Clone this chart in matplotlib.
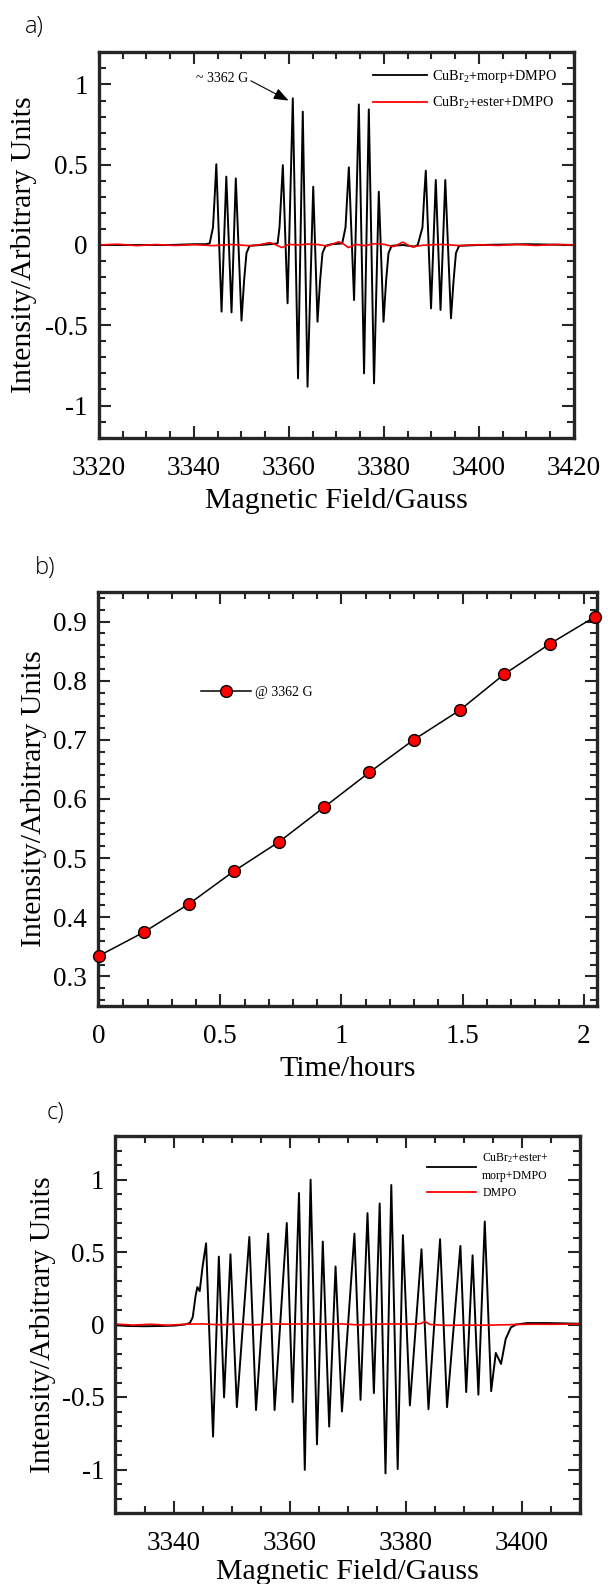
import matplotlib
matplotlib.use('Agg')
import matplotlib.pyplot as plt
from matplotlib.ticker import MultipleLocator, FuncFormatter
from matplotlib.lines import Line2D

plt.rcParams['font.family'] = ['Liberation Serif', 'DejaVu Serif']
plt.rcParams['mathtext.fontset'] = 'custom'
plt.rcParams['mathtext.rm'] = 'Liberation Serif'
plt.rcParams['mathtext.it'] = 'Liberation Serif:italic'
plt.rcParams['axes.unicode_minus'] = False

# ---------------- data: panel a ----------------
a_morp_field = [3320, 3335, 3340, 3342.5, 3343.3, 3344.0, 3344.35, 3344.7, 3345.8, 3346.8,
                3347.9, 3348.8, 3350.0, 3350.55, 3351.05, 3351.7, 3354, 3356, 3357.6, 3358.0,
                3358.35, 3358.7, 3359.7, 3360.8, 3361.9, 3362.9, 3363.9, 3365.1, 3366.0, 3366.55,
                3367.05, 3367.7, 3369, 3371.2, 3371.9, 3372.25, 3372.6, 3373.7, 3374.7, 3375.8,
                3376.8, 3377.9, 3378.9, 3379.9, 3380.45, 3380.95, 3381.6, 3384, 3386.4, 3387.1,
                3388.1, 3388.45, 3388.8, 3389.9, 3390.9, 3391.9, 3392.9, 3394.1, 3394.65, 3395.15,
                3395.8, 3400, 3410, 3420]
a_morp_int = [0.0, 0.0, 0.005, 0.005, 0.01, 0.11, 0.3, 0.503, -0.415, 0.426,
              -0.42, 0.415, -0.471, -0.22, -0.05, -0.005, 0.0, 0.005, 0.01, 0.11,
              0.3, 0.498, -0.363, 0.914, -0.831, 0.831, -0.883, 0.363, -0.478, -0.22,
              -0.05, -0.005, 0.005, 0.01, 0.11, 0.3, 0.484, -0.343, 0.876, -0.80,
              0.845, -0.862, 0.332, -0.478, -0.22, -0.05, -0.005, 0.0, -0.01, 0.0,
              0.11, 0.3, 0.463, -0.395, 0.405, -0.405, 0.405, -0.457, -0.22, -0.05,
              -0.005, 0.0, 0.005, 0.0]

a_ester_field = [3320, 3324, 3328, 3332, 3336, 3340, 3344, 3348, 3352, 3354, 3356, 3357,
                 3358.5, 3360, 3362, 3364, 3366, 3368, 3370.5, 3371.5, 3372.5, 3374, 3376,
                 3378, 3380, 3382, 3384, 3385, 3386, 3388, 3392, 3396, 3400, 3404, 3408,
                 3412, 3416, 3420]
a_ester_int = [0.0, 0.005, -0.004, 0.003, -0.003, 0.002, -0.004, 0.003, -0.005, 0.003, 0.015, 0.004,
               -0.016, 0.004, 0.0, 0.006, 0.003, -0.006, 0.02, 0.006, -0.016, 0.004, -0.004,
               0.008, 0.004, -0.01, 0.018, 0.0, -0.012, -0.002, 0.004, -0.004, 0.002, -0.003, 0.004,
               -0.003, 0.003, 0.0]

a_labels = ['CuBr$_2$+morp+DMPO', 'CuBr$_2$+ester+DMPO']
a_annot = '~ 3362 G'

# ---------------- data: panel b ----------------
b_time = [0, 0.185, 0.372, 0.556, 0.744, 0.928, 1.115, 1.298, 1.488, 1.672, 1.859, 2.046]
b_int = [0.335, 0.375, 0.423, 0.478, 0.528, 0.586, 0.645, 0.700, 0.750, 0.811, 0.862, 0.908]
b_label = '@ 3362 G'

# ---------------- data: panel c ----------------
c_mix_field = [3330, 3332, 3335, 3338, 3340, 3342.0, 3342.8, 3343.3, 3343.8, 3344.1, 3344.5,
               3345.0, 3345.6, 3346.8, 3347.8, 3348.7, 3349.8, 3350.9, 3353.05, 3354.2, 3356.3,
               3357.4, 3359.5, 3360.5, 3361.6, 3362.6, 3363.6, 3364.7, 3365.7, 3366.8, 3367.9,
               3369.0, 3371.15, 3372.2, 3373.4, 3374.5, 3375.5, 3376.5, 3377.5, 3378.6, 3379.5,
               3380.7, 3382.7, 3383.9, 3385.9, 3387.1, 3389.4, 3390.4, 3391.5, 3392.5, 3393.6,
               3394.7, 3395.5, 3396.4, 3397.2, 3398.1, 3399, 3401, 3404, 3407, 3410]
c_mix_int = [-0.005, -0.01, -0.012, -0.01, -0.008, 0.0, 0.01, 0.05, 0.2, 0.258, 0.23,
             0.4, 0.56, -0.773, 0.468, -0.503, 0.484, -0.57, 0.604, -0.59, 0.627,
             -0.59, 0.70, -0.535, 0.907, -1.003, 0.999, -0.826, 0.572, -0.704, 0.40,
             -0.60, 0.627, -0.52, 0.768, -0.473, 0.835, -1.027, 0.962, -0.997, 0.616,
             -0.558, 0.519, -0.584, 0.588, -0.570, 0.542, -0.466, 0.477, -0.484, 0.71,
             -0.46, -0.196, -0.272, -0.1, -0.02, 0.0, 0.01, 0.01, 0.008, 0.005]

c_dmpo_field = [3330, 3333, 3336, 3339, 3342, 3345, 3348, 3351, 3354, 3357, 3360, 3363, 3366,
                3369, 3372, 3375, 3378, 3381, 3382.5, 3383.3, 3384.2, 3387, 3390, 3393, 3396,
                3399, 3402, 3405, 3408, 3410]
c_dmpo_int = [0.003, -0.004, 0.002, -0.005, 0.002, 0.004, -0.002, 0.003, -0.002, 0.004, 0.002, 0.005,
              0.002, 0.004, -0.003, 0.002, 0.004, 0.002, 0.006, 0.02, 0.0, -0.006, -0.004, -0.005, -0.003,
              0.0, 0.002, 0.001, 0.003, 0.002]

c_labels = ['CuBr$_2$+ester+\nmorp+DMPO', 'DMPO']

# ---------------- figure ----------------
W, H = 608, 1584
fig = plt.figure(figsize=(W / 100, H / 100), dpi=100)


def px_axes(l, t, r, b):
    return fig.add_axes([l / W, 1 - b / H, (r - l) / W, (b - t) / H])


fmt = FuncFormatter(lambda v, p: '%g' % round(v, 6))
SPC = '#262626'


def style(ax, xmaj, xmin, ymaj, ymin):
    ax.xaxis.set_major_locator(MultipleLocator(xmaj))
    ax.xaxis.set_minor_locator(MultipleLocator(xmin))
    ax.yaxis.set_major_locator(MultipleLocator(ymaj))
    ax.yaxis.set_minor_locator(MultipleLocator(ymin))
    ax.xaxis.set_major_formatter(fmt)
    ax.yaxis.set_major_formatter(fmt)
    ax.tick_params(which='both', direction='in', top=True, right=True, width=1.5, color=SPC)
    ax.tick_params(which='major', length=8.5, labelsize=19.5)
    ax.tick_params(axis='x', which='major', pad=13)
    ax.tick_params(axis='y', which='major', pad=8)
    ax.tick_params(which='minor', length=5)
    for s in ax.spines.values():
        s.set_linewidth(2.4)
        s.set_color(SPC)


def labels(ax, xl, yl, ylx, lp=5):
    ax.set_xlabel(xl, fontsize=21.5, labelpad=lp)
    ax.set_ylabel(yl, fontsize=21.5)
    ax.yaxis.set_label_coords(ylx, 0.5)
    ax.yaxis.label.set_verticalalignment('center')


# ---- panel a ----
axa = px_axes(99, 52.4, 574, 437.6)
axa.plot(a_morp_field, a_morp_int, color='black', lw=1.4, solid_joinstyle='round')
axa.plot(a_ester_field, a_ester_int, color='red', lw=1.2)
axa.set_xlim(3320, 3420)
axa.set_ylim(-1.2, 1.2)
style(axa, 20, 5, 0.5, 0.1)
labels(axa, 'Magnetic Field/Gauss', 'Intensity/Arbitrary Units', -0.158)
axa.annotate(a_annot, xy=(3359.9, 0.9), xytext=(3340.4, 1.04), fontsize=10,
             va='center', ha='left',
             arrowprops=dict(arrowstyle='-|>,head_length=0.9,head_width=0.35', color='black',
                             lw=0.8, shrinkA=0, shrinkB=0, relpos=(1.0, 0.4)))
ha = [Line2D([], [], color='black', lw=1.3), Line2D([], [], color='red', lw=1.3)]
axa.legend(ha, a_labels, loc='upper left', bbox_to_anchor=(0.577, 0.96), frameon=False,
           fontsize=10.3, handlelength=3.8, handletextpad=0.35, labelspacing=0.7,
           borderpad=0, borderaxespad=0)

# ---- panel b ----
axb = px_axes(98, 592, 597, 1006)
axb.plot(b_time, b_int, color='black', lw=1.1, marker='o', markersize=8.5,
         markerfacecolor='red', markeredgecolor='black', markeredgewidth=1.0,
         clip_on=False, zorder=5, label=b_label)
axb.set_xlim(-0.005, 2.055)
axb.set_ylim(0.25, 0.95)
style(axb, 0.5, 0.1, 0.1, 0.02)
labels(axb, 'Time/hours', 'Intensity/Arbitrary Units', -0.128)
axb.legend(loc='center left', bbox_to_anchor=(0.207, 0.757), frameon=False, fontsize=10,
           handlelength=3.6, handletextpad=0.3, numpoints=1, borderpad=0, borderaxespad=0)

# ---- panel c ----
axc = px_axes(115.5, 1136, 580, 1513)
axc.plot(c_mix_field, c_mix_int, color='black', lw=1.4, solid_joinstyle='round')
axc.plot(c_dmpo_field, c_dmpo_int, color='red', lw=1.2)
axc.set_xlim(3330, 3410)
axc.set_ylim(-1.3, 1.3)
style(axc, 20, 5, 0.5, 0.1)
labels(axc, 'Magnetic Field/Gauss', 'Intensity/Arbitrary Units', -0.156, lp=2)
hc = [Line2D([], [], color='black', lw=1.3), Line2D([], [], color='red', lw=1.3)]
legc = axc.legend(hc, c_labels, loc='upper left', bbox_to_anchor=(0.67, 0.96), frameon=False,
                  fontsize=8.5, handlelength=4.2, handletextpad=0.5, labelspacing=0.45,
                  borderpad=0, borderaxespad=0)
legc.get_texts()[0].set_linespacing(1.55)

# panel letters
for txt, x, y in [('a)', 25, 27), ('b)', 35, 568), ('c)', 47, 1113)]:
    fig.text(x / W, 1 - y / H, txt, fontsize=17, family=['Open Sans', 'DejaVu Sans'],
             ha='left', va='center', fontweight='light')

fig.savefig('out.png', dpi=100)
